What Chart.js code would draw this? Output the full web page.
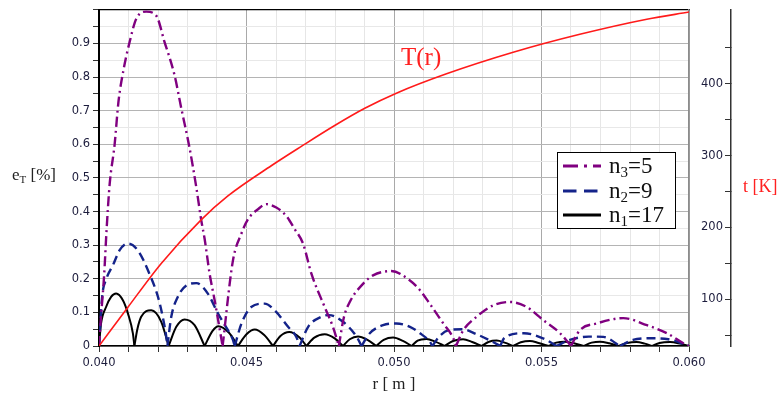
<!DOCTYPE html>
<html>
<head>
<meta charset="utf-8">
<title>e_T and T(r)</title>
<script src="https://cdn.jsdelivr.net/npm/chart.js@4.4.1/dist/chart.umd.min.js"></script>
<style>
  body { margin: 0; background: #fff; }
  #wrap { position: relative; width: 781px; height: 399px; }
  #myChart { position: absolute; left: 0; top: 0; }
  .lbl { position: absolute; font-family: "Liberation Serif", serif; white-space: nowrap; }
  #eLabel { left: 12px; top: 165px; font-size: 17px; line-height: 20px; color: #222; }
  #eLabel sub { font-size: 11px; vertical-align: -3px; }
  #tLabel { left: 743px; top: 176px; font-size: 18px; line-height: 20px; color: #ff2020; }
  #curveLabel { left: 401px; top: 43px; font-size: 25px; line-height: 28px; color: #ff2020; }
  #legendBox { position: absolute; left: 557px; top: 152px; width: 117px; height: 74px;
               border: 1px solid #000; background: #fff; padding-top: 1px; }
  .row { height: 24.5px; display: flex; align-items: center; }
  .row canvas { margin-left: 5px; margin-right: 8px; }
  .row span { font-family: "Liberation Serif", serif; font-size: 23px; line-height: 24px; color: #111; }
  .row sub { font-size: 15px; vertical-align: -4px; line-height: 0; }
</style>
</head>
<body>
<div id="wrap">
  <canvas id="myChart" width="781" height="399"></canvas>
  <div class="lbl" id="eLabel">e<sub>T</sub> [%]</div>
  <div class="lbl" id="tLabel">t [K]</div>
  <div class="lbl" id="curveLabel">T(r)</div>
  <div id="legendBox"></div>
</div>
<script>
//Values
//n3 = 5 (purple, dash-dot)
var rN3 = [0.0400, 0.04007, 0.04017, 0.04026, 0.04036, 0.04053, 0.04066, 0.04084, 0.04104, 0.04126, 0.0416,
           0.04194, 0.04222, 0.04256, 0.04279, 0.04307, 0.0433, 0.04347, 0.04358, 0.04375, 0.04392, 0.04419,
           0.04454, 0.04482, 0.04505, 0.04539, 0.04567, 0.04601, 0.04635, 0.04663, 0.04692, 0.0472, 0.04765, 0.04793, 0.04813,
           0.0483, 0.0485, 0.04895, 0.04929, 0.04991, 0.05054, 0.05088, 0.05121, 0.05167, 0.05201, 0.0521,
           0.05235, 0.0528, 0.05336, 0.05393, 0.0545, 0.05506, 0.05563, 0.0560,
           0.0563, 0.05687, 0.05777, 0.05857, 0.05925, 0.05981, 0.0600];
var eN3 = [0, 0.09, 0.205, 0.35, 0.48, 0.6, 0.727, 0.826, 0.905, 0.973, 0.995,
           0.983, 0.905, 0.806, 0.707, 0.589, 0.471, 0.372, 0.319, 0.215, 0.136, 0,
           0.254, 0.333, 0.377, 0.407, 0.422, 0.412, 0.387, 0.348, 0.304, 0.215, 0.116, 0.057, 0,
           0.085, 0.131, 0.185, 0.21, 0.223, 0.195, 0.166, 0.126, 0.067, 0.023, 0,
           0.047, 0.087, 0.121, 0.131, 0.116, 0.077, 0.038, 0,
           0.047, 0.067, 0.083, 0.062, 0.038, 0.008, 0];

//n2 = 9 (navy, dashed)
var rN2 = [0.0400, 0.04004, 0.04011, 0.04025, 0.04047, 0.0407, 0.04098, 0.04132, 0.04171, 0.042, 0.04216, 0.04228, 0.04232,
           0.04245, 0.04267, 0.04296, 0.0433, 0.04369, 0.04403, 0.04437, 0.04454, 0.0446,
           0.04483, 0.04516, 0.04561, 0.04596, 0.04641, 0.04669, 0.0468,
           0.04709, 0.04754, 0.0478, 0.04827, 0.04873, 0.0489,
           0.04918, 0.04963, 0.05008, 0.05054, 0.05088, 0.05121, 0.0513,
           0.05155, 0.0519, 0.0523, 0.0528, 0.05335, 0.0536,
           0.05375, 0.0544, 0.05505, 0.05551,
           0.05596, 0.0566, 0.0571, 0.05766,
           0.0581, 0.0587, 0.0593, 0.0600];
var eN2 = [0, 0.06, 0.15, 0.2, 0.24, 0.285, 0.305, 0.284, 0.215, 0.146, 0.087, 0.028, 0,
           0.087, 0.146, 0.18, 0.187, 0.156, 0.097, 0.047, 0.018, 0,
           0.067, 0.116, 0.126, 0.106, 0.057, 0.027, 0,
           0.057, 0.087, 0.092, 0.072, 0.028, 0,
           0.038, 0.062, 0.067, 0.057, 0.038, 0.013, 0,
           0.03, 0.048, 0.05, 0.035, 0.012, 0,
           0.025, 0.038, 0.023, 0,
           0.018, 0.028, 0.027, 0,
           0.018, 0.023, 0.02, 0];

//n1 = 17 (black, solid)
var rN1 = [0.0400, 0.04007, 0.04024, 0.04041, 0.04058, 0.04081, 0.04098, 0.04115, 0.0412,
           0.0413, 0.04143, 0.04177, 0.04211, 0.04236,
           0.04262, 0.0429, 0.04324, 0.04358,
           0.04385, 0.04405, 0.0444, 0.04471,
           0.045, 0.04528, 0.0456, 0.0459,
           0.04615, 0.04645, 0.0468, 0.04703,
           0.0473, 0.04765, 0.048, 0.04827,
           0.0485, 0.04878, 0.0491, 0.0494,
           0.04965, 0.04997, 0.0503, 0.0506,
           0.0508, 0.0511, 0.0514, 0.05172,
           0.052, 0.05234, 0.05265, 0.05297,
           0.0532, 0.05348, 0.05375, 0.05404,
           0.0543, 0.05461, 0.0549, 0.05523,
           0.0555, 0.05578, 0.0561, 0.05642,
           0.0567, 0.05698, 0.0573, 0.0576,
           0.0579, 0.05822, 0.0585, 0.05874,
           0.0590, 0.05936, 0.0597, 0.0600];
var eN1 = [0, 0.067, 0.116, 0.146, 0.156, 0.136, 0.097, 0.037, 0,
           0.05, 0.087, 0.106, 0.072, 0,
           0.057, 0.079, 0.062, 0,
           0.045, 0.059, 0.04, 0,
           0.035, 0.049, 0.033, 0,
           0.03, 0.042, 0.025, 0,
           0.025, 0.035, 0.022, 0,
           0.02, 0.028, 0.018, 0,
           0.018, 0.025, 0.015, 0,
           0.016, 0.021, 0.013, 0,
           0.015, 0.02, 0.012, 0,
           0.012, 0.016, 0.01, 0,
           0.011, 0.015, 0.009, 0,
           0.01, 0.013, 0.008, 0,
           0.01, 0.013, 0.008, 0,
           0.009, 0.012, 0.007, 0,
           0.009, 0.012, 0.007, 0];

//T(r) on the right axis [K]
var rT = [0.0400, 0.04098, 0.04211, 0.04347, 0.04437, 0.04584, 0.04686, 0.04799, 0.04901, 0.05008, 0.05178, 0.05404, 0.0563, 0.05857, 0.0600];
var tT = [35, 89, 150, 211, 244, 286, 313, 342, 366, 387, 414, 444, 469, 490, 500];

//Series look (legend is built from this too)
var seriesLabels = ["n<sub>3</sub>=5", "n<sub>2</sub>=9", "n<sub>1</sub>=17"];
var seriesColors = ["#800080", "#14238a", "#000000"];
var seriesDashes = [[10, 4, 2, 4], [9, 5], []];
var seriesR = [rN3, rN2, rN1];
var seriesE = [eN3, eN2, eN1];

//Break a series at its zeros so every lobe keeps the sharp cusp
function splitLobes(xs, ys) {
    var lobes = [];
    var cur = [];
    for (var i = 0; i < xs.length; i++) {
        cur.push({ x: xs[i], y: ys[i] });
        if (ys[i] === 0 && i > 0 && i < xs.length - 1) {
            lobes.push(cur);
            cur = [{ x: xs[i], y: ys[i] }];
        }
    }
    lobes.push(cur);
    return lobes;
}

var datasets = [];
datasets.push({
    label: "T(r)",
    data: rT.map(function (r, i) { return { x: r, y: tT[i] }; }),
    yAxisID: "y2",
    borderColor: "#ff1a1a",
    borderWidth: 1.6,
    pointRadius: 0,
    cubicInterpolationMode: "monotone"
});
for (var s = 0; s < seriesR.length; s++) {
    splitLobes(seriesR[s], seriesE[s]).forEach(function (lobe) {
        datasets.push({
            label: seriesLabels[s],
            data: lobe,
            yAxisID: "y",
            borderColor: seriesColors[s],
            borderDash: seriesDashes[s],
            borderWidth: s === 2 ? 2 : 2.4,
            pointRadius: 0,
            cubicInterpolationMode: "monotone"
        });
    });
}

var tickFont = { family: "DejaVu Sans", size: 11.5 };
var tickColor = "#1c1c3c";

function isMultiple(v, step) {
    return Math.abs(v / step - Math.round(v / step)) < 1e-6;
}

var infoChart = new Chart("myChart", {
    type: "line",
    data: { datasets: datasets },
    options: {
        responsive: false,
        animation: false,
        layout: { padding: { top: 6, left: 0, right: 0, bottom: 0 } },
        plugins: { legend: { display: false }, tooltip: { enabled: false } },
        scales: {
            x: {
                type: "linear",
                position: "bottom",
                min: 0.040,
                max: 0.060,
                afterFit: function (sc) { sc.height = 53; },
                ticks: {
                    stepSize: 0.001,
                    autoSkip: false,
                    maxRotation: 0,
                    padding: 4,
                    font: tickFont,
                    color: tickColor,
                    callback: function (v) { return isMultiple(v, 0.005) ? v.toFixed(3) : ""; }
                },
                grid: {
                    color: function (c) { return isMultiple(c.tick.value, 0.005) ? "#a9a9a9" : "#e6e6e6"; },
                    tickColor: "#333",
                    tickLength: 6
                },
                border: { color: "#000", width: 1.5 },
                title: {
                    display: true,
                    text: "r [ m ]",
                    font: { family: "Liberation Serif", size: 17 },
                    color: "#222",
                    padding: { top: 0, bottom: 4 }
                }
            },
            xTop: {
                type: "linear",
                position: "top",
                min: 0.040,
                max: 0.060,
                ticks: { display: false },
                grid: { drawOnChartArea: false, drawTicks: false },
                border: { color: "#000", width: 1.2 }
            },
            y: {
                type: "linear",
                position: "left",
                min: 0,
                max: 1,
                afterFit: function (sc) { sc.width = 99; },
                ticks: {
                    stepSize: 0.05,
                    autoSkip: false,
                    padding: 3,
                    font: tickFont,
                    color: tickColor,
                    callback: function (v) {
                        if (!isMultiple(v, 0.1) || v > 0.95) return "";
                        return v === 0 ? "0" : (Math.round(v * 10) / 10).toString();
                    }
                },
                grid: {
                    color: function (c) { return isMultiple(c.tick.value, 0.1) ? "#b4b4b4" : "#e8e8e8"; },
                    tickColor: "#333",
                    tickLength: 6
                },
                border: { color: "#000", width: 2 }
            },
            yPad: {
                type: "linear",
                position: "right",
                weight: 0,
                min: 0,
                max: 1,
                afterFit: function (sc) { sc.width = 42; },
                ticks: { display: false },
                grid: { drawOnChartArea: false, drawTicks: false },
                border: { color: "#8c8c8c", width: 1.5 }
            },
            y2: {
                type: "linear",
                position: "right",
                weight: 1,
                min: 35,
                max: 503,
                afterFit: function (sc) { sc.width = 50; },
                ticks: {
                    stepSize: 50,
                    includeBounds: false,
                    autoSkip: false,
                    mirror: true,
                    padding: -8,
                    font: tickFont,
                    color: tickColor,
                    callback: function (v) {
                        if (v > 470) return null;
                        return v % 100 === 0 ? v : "";
                    }
                },
                grid: { drawOnChartArea: false, tickColor: "#333", tickLength: -6 },
                border: { color: "#333", width: 1.5 }
            }
        }
    }
});

//HTML legend built from the series settings
var legendBox = document.getElementById("legendBox");
for (var k = 0; k < seriesLabels.length; k++) {
    var row = document.createElement("div");
    row.className = "row";
    var sample = document.createElement("canvas");
    sample.width = 38;
    sample.height = 10;
    var ctx = sample.getContext("2d");
    ctx.strokeStyle = seriesColors[k];
    ctx.lineWidth = 3;
    ctx.setLineDash(seriesDashes[k].map(function (d) { return d * 1.5; }));
    ctx.beginPath();
    ctx.moveTo(0, 5);
    ctx.lineTo(38, 5);
    ctx.stroke();
    var txt = document.createElement("span");
    txt.innerHTML = seriesLabels[k];
    row.appendChild(sample);
    row.appendChild(txt);
    legendBox.appendChild(row);
}
</script>
</body>
</html>
